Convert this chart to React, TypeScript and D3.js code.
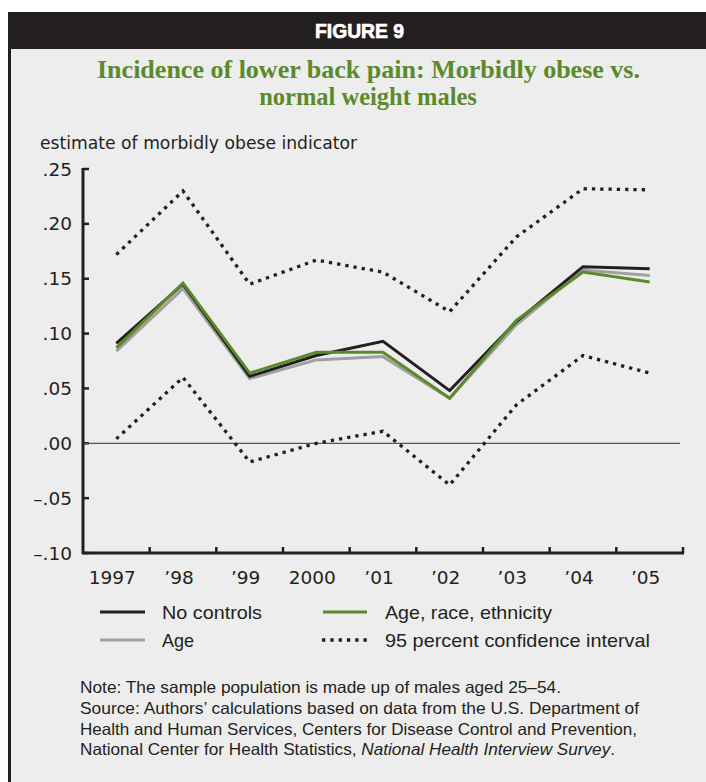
import React from "react";
import * as d3 from "d3";

const years = ["1997", "’98", "’99", "2000", "’01", "’02", "’03", "’04", "’05"];
const noControls = [0.091, 0.145, 0.061, 0.080, 0.093, 0.048, 0.111, 0.161, 0.159];
const ageOnly = [0.084, 0.141, 0.059, 0.076, 0.079, 0.041, 0.108, 0.158, 0.153];
const ageRaceEthnicity = [0.087, 0.146, 0.064, 0.083, 0.083, 0.041, 0.112, 0.156, 0.147];
const ciUpper = [0.172, 0.230, 0.145, 0.167, 0.156, 0.120, 0.188, 0.232, 0.231];
const ciLower = [0.004, 0.060, -0.017, 0.000, 0.011, -0.038, 0.035, 0.080, 0.064];
const yTicks = [0.25, 0.2, 0.15, 0.1, 0.05, 0, -0.05, -0.1];
const yTickLabels = [".25", ".20", ".15", ".10", ".05", ".00", "–.05", "–.10"];

const W = 706;
const H = 782;
const BG = "#ededed";
const DARK = "#231f20";
const GREEN = "#5b8a2a";
const GRAY = "#a0a0a0";

export default function App() {
  const x = d3.scaleBand<string>().domain(years).range([83, 683]).paddingInner(0).paddingOuter(0);
  const cx = (i: number) => (x(years[i]) as number) + x.bandwidth() / 2;
  const y = d3.scaleLinear().domain([-0.1, 0.25]).range([553, 169]);
  const line = d3
    .line<number>()
    .x((_, i) => cx(i))
    .y((d) => y(d));

  const sans = "'Liberation Sans', Arial, sans-serif";
  const axisFont = "'DejaVu Sans', sans-serif";

  return (
    <svg
      width={W}
      height={H}
      viewBox={`0 0 ${W} ${H}`}
      style={{ position: "absolute", left: 0, top: 0, display: "block" }}
    >
      <rect x={0} y={0} width={W} height={H} fill="#ffffff" />
      <rect x={9} y={12} width={W - 9} height={H - 12} fill={BG} />
      <rect x={8} y={12} width={3} height={H - 12} fill={DARK} />
      <rect x={8} y={12} width={W - 8} height={37} fill={DARK} />
      <text
        x={315}
        y={38}
        fill="#ffffff"
        fontFamily="'Liberation Sans', Arial, sans-serif"
        fontWeight="bold"
        fontSize={21}
        textLength={89}
        lengthAdjust="spacingAndGlyphs"
        stroke="#ffffff"
        strokeWidth={0.7}
      >
        FIGURE 9
      </text>
      <text
        x={97}
        y={78}
        fill={GREEN}
        fontFamily="'Liberation Serif', 'Times New Roman', serif"
        fontWeight="bold"
        fontSize={24.5}
        textLength={543}
        lengthAdjust="spacingAndGlyphs"
      >
        Incidence of lower back pain: Morbidly obese vs.
      </text>
      <text
        x={368}
        y={105}
        textAnchor="middle"
        fill={GREEN}
        fontFamily="'Liberation Serif', 'Times New Roman', serif"
        fontWeight="bold"
        fontSize={24.5}
      >
        normal weight males
      </text>

      <text x={40} y={149} fill={DARK} fontFamily={axisFont} fontSize={17.2}>
        estimate of morbidly obese indicator
      </text>

      {/* y tick labels and ticks */}
      {yTicks.map((t, i) => (
        <g key={"yt" + i}>
          <text
            x={72}
            y={y(t) + 6.5}
            textAnchor="end"
            fill={DARK}
            fontFamily={axisFont}
            fontSize={18.5}
          >
            {yTickLabels[i]}
          </text>
          <line x1={83} x2={89} y1={y(t)} y2={y(t)} stroke={DARK} strokeWidth={2.5} />
        </g>
      ))}

      {/* zero line */}
      <line x1={83} x2={680} y1={y(0)} y2={y(0)} stroke="#555" strokeWidth={1.2} />

      {/* axes */}
      <line x1={83} x2={83} y1={y(0.25) - 1} y2={y(-0.1) + 1} stroke={DARK} strokeWidth={3} />
      <line x1={82} x2={684} y1={y(-0.1)} y2={y(-0.1)} stroke={DARK} strokeWidth={3} />
      {years.map((yr, i) => (
        <line
          key={"xt" + i}
          x1={(x(yr) as number) + x.bandwidth()}
          x2={(x(yr) as number) + x.bandwidth()}
          y1={y(-0.1)}
          y2={y(-0.1) - 6}
          stroke={DARK}
          strokeWidth={2.5}
        />
      ))}
      {years.map((yr, i) => (
        <text
          key={"xl" + i}
          x={cx(i) - 4}
          y={584}
          textAnchor="middle"
          fill={DARK}
          fontFamily={axisFont}
          fontSize={18.5}
        >
          {yr}
        </text>
      ))}

      {/* CI dotted lines */}
      <path d={line(ciUpper) || ""} fill="none" stroke={DARK} strokeWidth={3.3} strokeDasharray="3.3 5" />
      <path d={line(ciLower) || ""} fill="none" stroke={DARK} strokeWidth={3.3} strokeDasharray="3.3 5" />

      {/* series */}
      <path d={line(ageOnly) || ""} fill="none" stroke={GRAY} strokeWidth={3} strokeLinejoin="miter" />
      <path d={line(noControls) || ""} fill="none" stroke={DARK} strokeWidth={3} strokeLinejoin="miter" />
      <path d={line(ageRaceEthnicity) || ""} fill="none" stroke={GREEN} strokeWidth={3} strokeLinejoin="miter" />

      {/* legend */}
      <g fill={DARK} fontFamily={sans} fontSize={19}>
        <line x1={100} x2={145} y1={612} y2={612} stroke={DARK} strokeWidth={3} />
        <text x={162} y={619} textLength={100} lengthAdjust="spacingAndGlyphs">No controls</text>
        <line x1={100} x2={145} y1={640} y2={640} stroke={GRAY} strokeWidth={3} />
        <text x={162} y={647} textLength={32} lengthAdjust="spacingAndGlyphs">Age</text>
        <line x1={323} x2={367} y1={612} y2={612} stroke={GREEN} strokeWidth={3} />
        <text x={385} y={619} textLength={167} lengthAdjust="spacingAndGlyphs">Age, race, ethnicity</text>
        <line x1={322} x2={367} y1={640} y2={640} stroke={DARK} strokeWidth={3.3} strokeDasharray="3.3 5" />
        <text x={385} y={647} textLength={265} lengthAdjust="spacingAndGlyphs">95 percent confidence interval</text>
      </g>

      {/* notes */}
      <g fill={DARK} fontFamily={sans} fontSize={16.5}>
        <text x={80} y={693} textLength={481} lengthAdjust="spacingAndGlyphs">
          Note: The sample population is made up of males aged 25–54.
        </text>
        <text x={80} y={714} textLength={559} lengthAdjust="spacingAndGlyphs">
          Source: Authors’ calculations based on data from the U.S. Department of
        </text>
        <text x={80} y={735} textLength={557} lengthAdjust="spacingAndGlyphs">
          Health and Human Services, Centers for Disease Control and Prevention,
        </text>
        <text x={80} y={755} textLength={535} lengthAdjust="spacingAndGlyphs">
          National Center for Health Statistics, <tspan fontStyle="italic">National Health Interview Survey</tspan>.
        </text>
      </g>
    </svg>
  );
}
